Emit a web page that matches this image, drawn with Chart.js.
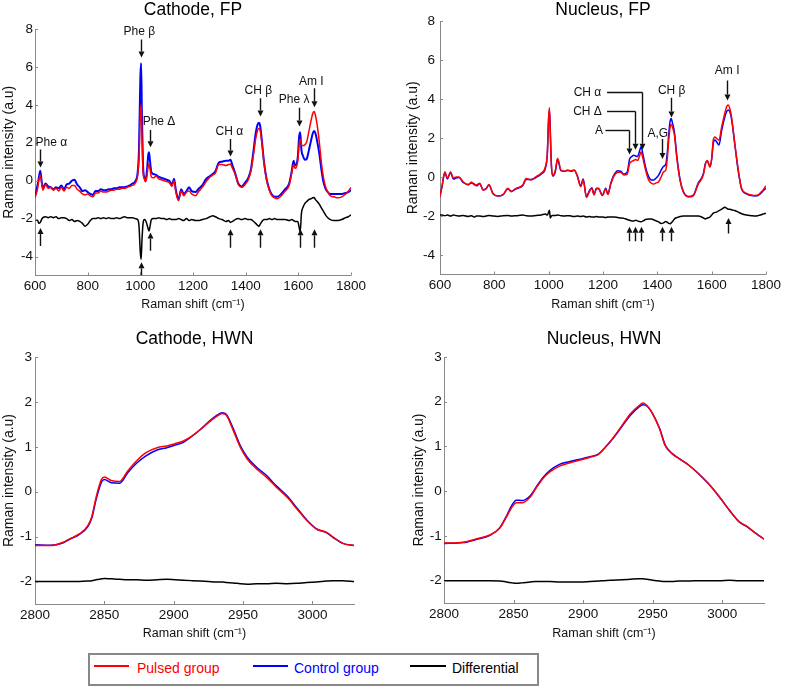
<!DOCTYPE html>
<html><head><meta charset="utf-8">
<script src="https://cdn.jsdelivr.net/npm/chart.js@4/dist/chart.umd.min.js"></script>
<style>
html,body{margin:0;padding:0;background:#fff}
body{width:787px;height:689px;position:relative;overflow:hidden;font-family:'Liberation Sans',Arial,sans-serif}
canvas{position:absolute}
#legbox{position:absolute;left:88px;top:653px;width:451px;height:33px;border:2px solid #888;box-sizing:border-box}
.ll{position:absolute;height:2px;top:665px}
.lt{position:absolute;top:659px;font-size:14px;line-height:18px;white-space:nowrap}
</style>
</head><body>
<canvas id="c1"></canvas><canvas id="c2"></canvas><canvas id="c3"></canvas><canvas id="c4"></canvas>
<div id="legbox"></div>
<div class="ll" style="left:94px;width:35px;background:#ff0000"></div><div class="lt" style="left:137px;color:#ff0000">Pulsed group</div>
<div class="ll" style="left:253px;width:35px;background:#0000ff"></div><div class="lt" style="left:294px;color:#0000ff">Control group</div>
<div class="ll" style="left:410px;width:36px;background:#000"></div><div class="lt" style="left:452px;color:#000">Differential</div>
<script>
// ---------- DATA ----------
const seriesNames = ["Pulsed group", "Control group", "Differential"];
const panelTitles = ["Cathode, FP", "Nucleus, FP", "Cathode, HWN", "Nucleus, HWN"];
const xTitle = "Raman shift (cm\u207B\u00B9)";
const yTitle = "Raman intensity (a.u)";

// Cathode, FP
const cfpX = [600,610,615,620,625,630,640,650,660,670,680,690,700,710,720,730,740,750,760,770,780,790,800,810,820,830,840,850,860,870,880,890,900,910,920,930,940,950,960,970,980,990,995,1000,1003,1006,1010,1015,1020,1025,1030,1033,1037,1042,1050,1060,1070,1080,1090,1100,1110,1120,1128,1135,1145,1155,1165,1175,1185,1195,1210,1220,1235,1250,1265,1275,1285,1298,1310,1325,1335,1342,1350,1360,1372,1385,1398,1410,1420,1430,1438,1445,1450,1455,1462,1470,1480,1490,1500,1510,1520,1535,1550,1565,1575,1582,1588,1598,1603,1607,1612,1618,1625,1632,1640,1648,1655,1660,1665,1672,1680,1688,1695,1703,1712,1722,1735,1750,1765,1780,1790,1800];
const cfpPulsed = [-0.90,-0.40,0.05,0.30,-0.10,-0.50,-0.20,-0.40,-0.35,-0.50,-0.40,-0.55,-0.35,-0.55,-0.35,-0.40,-0.25,-0.25,-0.45,-0.55,-0.70,-0.75,-0.70,-0.80,-0.85,-0.65,-0.65,-0.55,-0.60,-0.60,-0.55,-0.50,-0.50,-0.45,-0.45,-0.40,-0.40,-0.35,-0.30,-0.25,-0.15,0.30,1.20,3.60,4.00,2.50,0.60,0.10,-0.05,0.20,0.80,0.88,0.60,0.20,0.15,0.25,0.10,0.05,0.00,-0.05,-0.10,-0.30,0.00,-0.60,-1.05,-0.55,-0.80,-0.60,-0.55,-0.70,-0.80,-0.60,-0.35,-0.05,0.20,0.30,0.40,0.85,0.85,0.80,0.85,0.88,0.65,0.35,-0.20,-0.35,-0.20,0.05,0.50,1.40,2.20,2.65,2.75,2.65,1.95,0.90,0.00,-0.50,-0.80,-0.90,-0.95,-0.80,-0.55,-0.25,0.40,0.85,0.65,1.05,1.90,2.20,1.85,1.85,1.90,2.05,2.60,3.15,3.55,3.65,3.45,2.90,2.00,0.90,0.20,-0.30,-0.60,-0.80,-0.85,-0.90,-0.85,-0.70,-0.55,-0.35];
const cfpControl = [-0.85,-0.20,0.20,0.52,0.00,-0.40,-0.15,-0.30,-0.35,-0.45,-0.35,-0.40,-0.25,-0.45,-0.20,-0.15,0.00,0.05,-0.20,-0.35,-0.55,-0.50,-0.60,-0.70,-0.75,-0.55,-0.55,-0.45,-0.50,-0.50,-0.45,-0.45,-0.40,-0.40,-0.35,-0.35,-0.35,-0.30,-0.25,-0.15,-0.05,0.45,1.70,5.40,6.20,3.50,0.90,0.15,0.05,0.50,1.35,1.50,1.00,0.45,0.35,0.30,0.20,0.15,0.10,0.05,0.00,-0.20,0.10,-0.50,-1.00,-0.45,-0.70,-0.55,-0.35,-0.55,-0.60,-0.45,-0.25,0.10,0.25,0.35,0.50,0.95,1.00,1.05,1.05,1.10,0.80,0.40,-0.15,-0.30,-0.10,0.15,0.60,1.60,2.50,2.95,3.05,2.90,2.05,0.95,0.05,-0.45,-0.75,-0.85,-0.85,-0.70,-0.45,-0.15,0.50,1.05,0.80,1.25,2.30,2.55,1.60,1.30,1.10,1.15,1.60,2.10,2.50,2.62,2.50,2.05,1.40,0.55,-0.05,-0.40,-0.60,-0.70,-0.70,-0.70,-0.70,-0.65,-0.60,-0.50];
const cfpDiff = [-2.05,-2.10,-2.25,-2.20,-2.05,-1.95,-1.90,-1.95,-1.90,-1.95,-1.90,-2.00,-1.95,-1.95,-2.00,-2.10,-2.05,-2.15,-2.10,-2.15,-2.25,-2.40,-2.30,-2.10,-2.00,-2.00,-1.95,-2.00,-1.95,-2.00,-1.95,-2.00,-2.00,-1.95,-2.00,-1.95,-1.90,-1.95,-1.95,-1.95,-2.00,-2.05,-2.40,-3.80,-4.15,-3.20,-2.30,-2.05,-2.10,-2.30,-2.55,-2.65,-2.40,-2.05,-2.00,-2.00,-1.95,-2.00,-2.00,-2.05,-2.00,-2.05,-2.05,-2.05,-2.00,-2.05,-2.10,-2.00,-2.10,-2.05,-2.10,-2.10,-2.05,-2.00,-1.90,-1.85,-1.90,-2.00,-2.05,-2.15,-2.10,-2.20,-2.15,-2.05,-2.00,-2.05,-2.00,-2.05,-2.05,-2.15,-2.25,-2.35,-2.40,-2.30,-2.15,-2.05,-2.05,-2.00,-2.05,-2.00,-2.05,-2.05,-2.05,-2.10,-2.05,-2.10,-2.15,-2.15,-2.45,-2.70,-1.70,-1.40,-1.20,-1.10,-1.00,-0.95,-0.90,-0.88,-1.00,-1.10,-1.25,-1.45,-1.60,-1.80,-1.95,-2.05,-2.10,-2.10,-2.05,-1.95,-1.90,-1.80];

// Nucleus, FP
const nfpX = [600,608,618,627,639,649,660,670,685,704,716,726,734,746,759,770,780,795,813,832,850,862,880,905,917,935,954,972,988,995,1000,1003,1006,1010,1015,1024,1033,1045,1058,1070,1082,1094,1106,1118,1127,1139,1150,1159,1167,1176,1183,1198,1210,1218,1228,1240,1255,1265,1277,1289,1298,1306,1313,1320,1327,1334,1340,1348,1356,1368,1378,1387,1396,1405,1414,1423,1431,1437,1442,1447,1451,1456,1463,1472,1484,1496,1515,1533,1551,1563,1570,1577,1584,1594,1600,1606,1612,1618,1627,1637,1649,1655,1661,1667,1673,1685,1698,1710,1728,1746,1760,1771,1780,1789,1800];
const nfpPulsed = [-1.00,-0.40,0.27,-0.05,0.27,-0.05,0.00,0.00,-0.24,-0.41,-0.26,-0.40,-0.41,-0.32,-0.67,-0.60,-0.38,-0.84,-0.97,-0.92,-0.58,-0.75,-0.58,-0.41,-0.07,-0.15,0.02,0.19,0.53,1.20,3.10,3.55,2.20,0.60,0.10,0.30,0.96,0.36,0.30,0.36,0.32,0.36,0.02,-0.50,-0.15,-1.05,-0.75,-0.58,-0.92,-0.60,-0.60,-0.95,-0.62,-0.90,-0.40,0.05,0.25,0.25,0.10,0.15,0.70,0.80,0.85,0.90,0.85,1.05,1.28,0.90,0.40,-0.15,-0.32,-0.36,-0.30,-0.24,0.00,0.27,0.35,1.00,1.90,2.55,2.70,2.55,2.15,0.95,-0.20,-0.78,-1.02,-0.95,-0.35,-0.10,0.15,0.65,0.85,0.50,0.95,1.90,2.05,1.98,1.90,2.58,3.30,3.60,3.69,3.50,3.10,1.73,0.36,-0.58,-0.84,-0.92,-0.95,-0.92,-0.80,-0.67,-0.45];
const nfpControl = [-1.00,-0.45,0.22,-0.10,0.22,-0.10,-0.05,-0.02,-0.28,-0.38,-0.30,-0.35,-0.45,-0.35,-0.65,-0.58,-0.41,-0.86,-0.97,-0.90,-0.60,-0.73,-0.60,-0.43,-0.12,-0.12,-0.02,0.15,0.45,1.15,3.00,3.40,2.40,0.65,0.05,0.25,0.90,0.33,0.30,0.33,0.30,0.35,0.05,-0.45,-0.10,-1.00,-0.70,-0.55,-0.88,-0.58,-0.58,-0.92,-0.58,-0.88,-0.35,0.10,0.32,0.30,0.15,0.25,0.92,1.05,1.12,1.08,1.05,1.30,1.55,1.10,0.55,0.02,-0.15,-0.15,-0.05,0.10,0.35,0.55,0.65,1.30,2.20,2.85,3.00,2.75,2.30,1.05,-0.15,-0.75,-1.00,-0.92,-0.30,-0.05,0.20,0.70,0.82,0.55,0.90,1.73,1.90,1.81,1.64,2.40,3.10,3.35,3.44,3.35,3.00,1.70,0.30,-0.60,-0.86,-0.95,-0.97,-0.95,-0.85,-0.72,-0.58];
const nfpDiff = [-1.95,-1.95,-1.98,-1.95,-2.00,-1.95,-1.98,-2.00,-1.97,-2.02,-1.98,-2.05,-2.00,-2.00,-2.03,-2.00,-1.97,-2.00,-2.02,-1.98,-1.97,-2.00,-1.98,-1.95,-1.98,-2.00,-1.97,-1.95,-1.90,-1.95,-1.80,-1.70,-2.10,-2.00,-1.97,-1.97,-1.95,-1.98,-2.00,-1.98,-2.00,-2.02,-2.00,-2.02,-2.00,-2.05,-2.03,-2.05,-2.05,-2.03,-2.05,-2.05,-2.08,-2.05,-2.05,-2.05,-2.08,-2.10,-2.12,-2.18,-2.22,-2.25,-2.25,-2.22,-2.25,-2.28,-2.30,-2.25,-2.18,-2.15,-2.15,-2.20,-2.25,-2.30,-2.38,-2.35,-2.28,-2.32,-2.38,-2.40,-2.35,-2.28,-2.15,-2.08,-2.02,-2.00,-2.00,-2.00,-2.00,-2.05,-2.10,-2.15,-2.10,-2.05,-1.95,-1.85,-1.82,-1.80,-1.72,-1.65,-1.55,-1.60,-1.65,-1.65,-1.68,-1.72,-1.80,-1.88,-1.95,-1.98,-2.00,-1.98,-1.95,-1.90,-1.85];

// Cathode, HWN
const chwX = [2800,2811,2820,2825,2832,2838,2841,2844,2848,2850,2855,2861,2867,2873,2880,2888,2895,2901,2907,2913,2919,2925,2931,2935,2938,2943,2948,2953,2960,2967,2974,2982,2989,2996,3003,3010,3015,3022,3030];
const chwPulsed = [-1.20,-1.20,-1.13,-1.05,-0.94,-0.76,-0.55,-0.13,0.28,0.33,0.25,0.23,0.47,0.68,0.87,0.98,1.02,1.07,1.13,1.24,1.38,1.54,1.68,1.74,1.70,1.36,0.99,0.73,0.50,0.32,0.10,-0.13,-0.39,-0.64,-0.83,-0.90,-1.01,-1.15,-1.20];
const chwControl = [-1.18,-1.19,-1.14,-1.06,-0.95,-0.78,-0.58,-0.18,0.22,0.27,0.20,0.19,0.43,0.63,0.80,0.93,0.98,1.04,1.10,1.23,1.38,1.55,1.70,1.76,1.72,1.40,1.03,0.77,0.54,0.36,0.13,-0.10,-0.37,-0.63,-0.83,-0.91,-1.02,-1.15,-1.20];
const chwDiff = [-2.00,-2.00,-2.00,-2.00,-2.00,-1.99,-1.98,-1.96,-1.94,-1.93,-1.94,-1.95,-1.96,-1.96,-1.97,-1.96,-1.95,-1.96,-1.97,-1.98,-1.99,-2.00,-2.01,-2.01,-2.02,-2.03,-2.05,-2.06,-2.05,-2.05,-2.04,-2.05,-2.04,-2.02,-2.01,-1.99,-1.98,-1.98,-2.00];

// Nucleus, HWN
const nhwX = [2800,2814,2823,2833,2840,2845,2849,2852,2856,2862,2866,2871,2876,2883,2890,2897,2905,2911,2915,2921,2928,2934,2940,2943,2946,2950,2955,2959,2964,2969,2976,2983,2990,2998,3005,3012,3018,3024,3030];
const nhwPulsed = [-1.16,-1.14,-1.07,-0.98,-0.83,-0.57,-0.35,-0.26,-0.26,-0.13,0.06,0.28,0.43,0.56,0.63,0.69,0.76,0.82,0.95,1.17,1.47,1.73,1.91,1.97,1.91,1.73,1.39,1.02,0.84,0.73,0.58,0.39,0.17,-0.13,-0.42,-0.68,-0.79,-0.94,-1.07];
const nhwControl = [-1.17,-1.15,-1.08,-0.99,-0.82,-0.55,-0.30,-0.20,-0.21,-0.10,0.08,0.30,0.46,0.60,0.66,0.71,0.77,0.83,0.95,1.16,1.45,1.70,1.88,1.93,1.90,1.73,1.40,1.03,0.84,0.73,0.58,0.39,0.17,-0.13,-0.42,-0.68,-0.80,-0.94,-1.07];
const nhwDiff = [-2.00,-2.00,-2.00,-2.00,-2.01,-2.03,-2.05,-2.06,-2.05,-2.03,-2.02,-2.02,-2.02,-2.03,-2.03,-2.03,-2.02,-2.01,-2.00,-1.99,-1.98,-1.97,-1.96,-1.96,-1.97,-1.99,-2.01,-2.02,-2.02,-2.01,-2.01,-2.00,-2.00,-2.00,-1.99,-2.00,-2.00,-2.00,-2.00];

// Annotations (data units): labels [text, x, y]; arrows [x, yFrom, yTo]; leaders [text, labelX, labelY, lineStartX, arrowX, tipY]
const cfpLabels = [["Phe \u03B1",662,2.03],["Phe \u03B2",996,7.85],["Phe \u0394",1071,3.09],["CH \u03B1",1338,2.6],["CH \u03B2",1448,4.73],["Phe \u03BB",1584,4.27],["Am I",1649,5.24]];
const cfpArrows = [[620,1.64,0.7],[1003,7.44,6.5],[1037,2.68,1.76],[1342,2.2,1.27],[1453,4.35,3.39],[1604,3.85,2.86],[1658,4.88,3.87],
  [620,-3.45,-2.5],[1003,-5.0,-4.3],[1037,-3.7,-2.73],[1342,-3.53,-2.56],[1453,-3.53,-2.56],[1606,-3.53,-2.56],[1658,-3.53,-2.56]];
const nfpLabels = [["Am I",1657,5.46],["CH \u03B2",1453,4.44],["A,G",1402,2.24]];
const nfpArrows = [[1657,4.95,3.93],[1451,4.07,3.05],[1419,1.95,0.93],
  [1296,-3.3,-2.55],[1316,-3.3,-2.55],[1340,-3.3,-2.55],[1419,-3.3,-2.55],[1450,-3.3,-2.55],[1659,-2.9,-2.1]];
const nfpLeaders = [["CH \u03B1",1143,4.37,1215,1343,1.4],["CH \u0394",1143,3.39,1215,1316,1.4],["A",1185,2.41,1209,1296,1.15]];

// ---------- RENDERING ----------
const FONT = "'Liberation Sans', Arial, sans-serif";
const RED = '#ff0000', BLUE = '#0000ff', BLACK = '#000000', AXIS = '#888888';

function pts(xs, ys){ return xs.map((x,i)=>({x:x, y:ys[i]})); }

function arrowPath(ctx, x, y1, y2){
  const dir = y2 > y1 ? 1 : -1, hl = 6, hw = 3;
  ctx.beginPath(); ctx.moveTo(x, y1); ctx.lineTo(x, y2 - dir*hl); ctx.stroke();
  ctx.beginPath(); ctx.moveTo(x, y2); ctx.lineTo(x-hw, y2-dir*hl); ctx.lineTo(x+hw, y2-dir*hl); ctx.closePath(); ctx.fill();
}

function makeChart(id, g){
  const cv = document.getElementById(id);
  cv.width = g.w; cv.height = g.h;
  cv.style.left = g.left+'px'; cv.style.top = g.top+'px';
  cv.style.width = g.w+'px'; cv.style.height = g.h+'px';
  const annot = {
    id: 'annot'+id,
    afterDraw(chart){
      const ctx = chart.ctx, xs = chart.scales.x, ys = chart.scales.y, a = chart.chartArea;
      ctx.save();
      ctx.strokeStyle = AXIS; ctx.lineWidth = 1;
      xs.ticks.forEach(t=>{ const px = Math.round(xs.getPixelForValue(t.value))+0.5; ctx.beginPath(); ctx.moveTo(px, a.bottom); ctx.lineTo(px, a.bottom-3); ctx.stroke(); });
      ys.ticks.forEach(t=>{ const py = Math.round(ys.getPixelForValue(t.value))+0.5; ctx.beginPath(); ctx.moveTo(a.left, py); ctx.lineTo(a.left+3, py); ctx.stroke(); });
      ctx.fillStyle = '#111'; ctx.strokeStyle = '#111'; ctx.lineWidth = 1.4;
      ctx.font = '12px ' + FONT; ctx.textAlign = 'center'; ctx.textBaseline = 'middle';
      (g.labels||[]).forEach(l=>{ ctx.fillText(l[0], xs.getPixelForValue(l[1]), ys.getPixelForValue(l[2])); });
      ctx.save(); ctx.beginPath(); ctx.rect(a.left, a.top, a.right-a.left, a.bottom-a.top); ctx.clip();
      (g.arrows||[]).forEach(r=>{ arrowPath(ctx, Math.round(xs.getPixelForValue(r[0]))+0.5, ys.getPixelForValue(r[1]), ys.getPixelForValue(r[2])); });
      ctx.restore();
      (g.leaders||[]).forEach(l=>{
        const ly = Math.round(ys.getPixelForValue(l[2]))+0.5;
        const ax = Math.round(xs.getPixelForValue(l[4]))+0.5;
        ctx.fillText(l[0], xs.getPixelForValue(l[1]), ly);
        ctx.beginPath(); ctx.moveTo(xs.getPixelForValue(l[3]), ly); ctx.lineTo(ax, ly); ctx.stroke();
        arrowPath(ctx, ax, ly, ys.getPixelForValue(l[5]));
      });
      ctx.restore();
    }
  };
  return new Chart(cv, {
    type: 'line',
    data: { datasets: [
      {label: seriesNames[0], data: pts(g.x, g.red), borderColor: RED, borderWidth: 1.5},
      {label: seriesNames[1], data: pts(g.x, g.blue), borderColor: BLUE, borderWidth: g.blueW||1.5},
      {label: seriesNames[2], data: pts(g.x, g.black), borderColor: BLACK, borderWidth: 1.5}
    ]},
    options: {
      responsive: false, animation: false, devicePixelRatio: 1,
      elements: { point: {radius: 0}, line: {cubicInterpolationMode: 'monotone', fill: false} },
      layout: { padding: {left: 0, right: g.rp, top: 0, bottom: 0} },
      plugins: {
        legend: {display: false}, tooltip: {enabled: false},
        title: {display: true, text: g.title, color: '#000', font: {family: FONT, size: 17.5, weight: 'normal'},
                padding: {top: g.tpt, bottom: g.tpb}, fullSize: false}
      },
      scales: {
        x: { type: 'linear', min: g.xmin, max: g.xmax,
             ticks: {stepSize: g.xstep, includeBounds: false, color: '#111', font: {family: FONT, size: 13.5}, padding: 3, maxRotation: 0, autoSkip: false, callback: v => String(v)},
             grid: {color: 'rgba(0,0,0,0)', drawTicks: false}, border: {color: AXIS, width: 1},
             title: {display: true, text: xTitle, color: '#111', font: {family: FONT, size: 12.5}, padding: {top: 0, bottom: 0}},
             afterFit: s => { s.height = g.H; } },
        y: { type: 'linear', min: g.ymin, max: g.ymax,
             ticks: {stepSize: g.ystep, includeBounds: false, color: '#111', font: {family: FONT, size: 13.5}, padding: g.tp, autoSkip: false, callback: v => String(v)},
             grid: {color: 'rgba(0,0,0,0)', drawTicks: false}, border: {color: AXIS, width: 1},
             title: {display: true, text: yTitle, color: '#111', font: {family: FONT, size: 14}, padding: {top: g.ytp, bottom: 0}},
             afterFit: s => { s.width = g.W; } }
      }
    },
    plugins: [annot]
  });
}

makeChart('c1', {title: panelTitles[0], left: 0, top: 0, w: 369, h: 312, rp: 16, W: 35, H: 36.5, tpt: 0, tpb: 8.0, tp: 2, ytp: 0.6,
  xmin: 600, xmax: 1800, xstep: 200, ymin: -5, ymax: 8, ystep: 2,
  x: cfpX, red: cfpPulsed, blue: cfpControl, black: cfpDiff, blueW: 2, labels: cfpLabels, arrows: cfpArrows});
makeChart('c2', {title: panelTitles[1], left: 395, top: 0, w: 389, h: 312, rp: 16, W: 45, H: 37.5, tpt: 0, tpb: 0.1, tp: 5, ytp: 9.6,
  xmin: 600, xmax: 1800, xstep: 200, ymin: -5, ymax: 8, ystep: 2,
  x: nfpX, red: nfpPulsed, blue: nfpControl, black: nfpDiff, labels: nfpLabels, arrows: nfpArrows, leaders: nfpLeaders});
makeChart('c3', {title: panelTitles[2], left: 0, top: 325, w: 370, h: 316, rp: 16, W: 35, H: 37, tpt: 3.4, tpb: 7.6, tp: 3, ytp: 0.6,
  xmin: 2800, xmax: 3030, xstep: 50, ymin: -2.5, ymax: 3, ystep: 1,
  x: chwX, red: chwPulsed, blue: chwControl, black: chwDiff});
makeChart('c4', {title: panelTitles[3], left: 399, top: 325, w: 381, h: 316, rp: 16, W: 45, H: 38, tpt: 3.4, tpb: 7.6, tp: 2.3, ytp: 11.9,
  xmin: 2800, xmax: 3030, xstep: 50, ymin: -2.5, ymax: 3, ystep: 1,
  x: nhwX, red: nhwPulsed, blue: nhwControl, black: nhwDiff});
</script>
</body></html>
